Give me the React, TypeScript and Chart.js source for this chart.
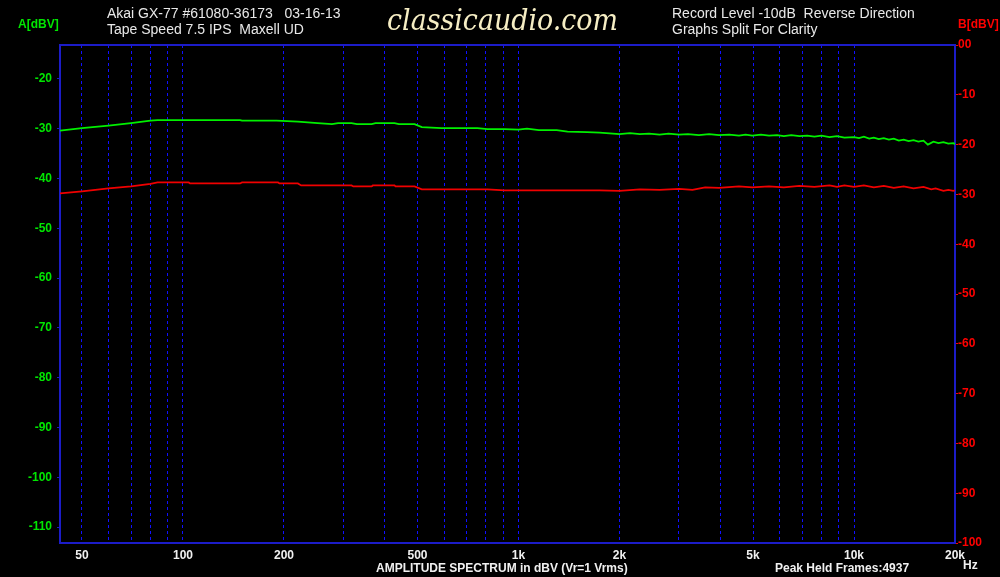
import { useEffect, useRef } from 'react';
import { Chart, registerables } from 'chart.js';

Chart.register(...registerables);

// Channel A (green, left axis) — frequency (Hz) and level (dBV)
const FREQ_A = [43, 50, 60, 70, 80, 84, 148, 150, 190, 220, 252, 278, 290, 318, 330, 365, 375, 427, 440, 490, 515, 589, 754, 808, 909, 1000, 1060, 1150, 1300, 1400, 1600, 1745, 2000, 2150, 2300, 2450, 2634, 2800, 3010, 3200, 3450, 3700, 3960, 4250, 4540, 4750, 4980, 5280, 5580, 5900, 6180, 6500, 6875, 7250, 7620, 8000, 8450, 8900, 9360, 10000, 10350, 10700, 11100, 11460, 11850, 12270, 12700, 13140, 13600, 14060, 14550, 15050, 15550, 16110, 16600, 17250, 17850, 18470, 19100, 19770, 20000];
const LEVEL_A = [-30.4, -29.9, -29.4, -28.9, -28.4, -28.3, -28.3, -28.4, -28.4, -28.6, -28.9, -29.1, -28.9, -28.9, -29.1, -29.1, -28.9, -28.9, -29.1, -29.1, -29.7, -29.9, -29.9, -30.1, -30.1, -30.2, -30.0, -30.3, -30.3, -30.6, -30.7, -30.8, -31.1, -30.9, -31.1, -31.0, -31.2, -31.0, -31.2, -31.1, -31.3, -31.1, -31.3, -31.2, -31.4, -31.2, -31.4, -31.2, -31.4, -31.3, -31.5, -31.3, -31.5, -31.4, -31.6, -31.4, -31.7, -31.5, -31.8, -31.7, -31.9, -31.6, -32.0, -31.8, -32.1, -31.9, -32.2, -32.0, -32.4, -32.2, -32.5, -32.3, -32.6, -32.4, -33.2, -32.6, -32.9, -32.7, -33.0, -32.9, -33.1];

// Channel B (red, right axis) — frequency (Hz) and level (dBV)
const FREQ_B = [43, 50, 60, 70, 80, 84, 104, 105, 148, 150, 192, 194, 220, 225, 318, 322, 365, 368, 427, 430, 490, 515, 808, 909, 1745, 2000, 2300, 2634, 3010, 3300, 3600, 3960, 4540, 4980, 5580, 6180, 6875, 7620, 8450, 8900, 9360, 10000, 10700, 11460, 12270, 13140, 14060, 15050, 16110, 17000, 17500, 18470, 19100, 19770, 20000];
const LEVEL_B = [-29.8, -29.4, -28.8, -28.4, -27.9, -27.6, -27.6, -27.8, -27.8, -27.6, -27.6, -27.8, -27.8, -28.2, -28.2, -28.4, -28.4, -28.2, -28.2, -28.4, -28.4, -29.0, -29.0, -29.2, -29.2, -29.3, -29.0, -29.1, -28.9, -29.1, -28.6, -28.7, -28.4, -28.6, -28.4, -28.6, -28.3, -28.5, -28.2, -28.5, -28.2, -28.5, -28.2, -28.6, -28.3, -28.7, -28.4, -28.8, -28.5, -29.0, -28.8, -29.3, -29.1, -29.3, -29.2];

const GRID_FREQS = [50, 60, 70, 80, 90, 100, 200, 300, 400, 500, 600, 700, 800, 900, 1000, 2000, 3000, 4000, 5000, 6000, 7000, 8000, 9000, 10000, 20000];
const X_LABEL_FREQS = [50, 100, 200, 500, 1000, 2000, 5000, 10000, 20000];
const X_LABEL_TEXT = ['50', '100', '200', '500', '1k', '2k', '5k', '10k', '20k'];
const LEFT_TICKS = [-20, -30, -40, -50, -60, -70, -80, -90, -100, -110];
const RIGHT_TICKS = [0, -10, -20, -30, -40, -50, -60, -70, -80, -90, -100];

const FONT = '"Liberation Sans", Arial, sans-serif';

const textPlugin = {
  id: 'textPlugin',
  beforeDatasetsDraw(chart: any) {
    const { ctx, chartArea } = chart;
    ctx.save();
    ctx.strokeStyle = '#1c1cc8';
    ctx.lineWidth = 2;
    ctx.strokeRect(chartArea.left, chartArea.top, chartArea.right - chartArea.left, chartArea.bottom - chartArea.top);
    ctx.restore();
  },
  afterDraw(chart: any) {
    const ctx = chart.ctx;
    ctx.save();
    ctx.textBaseline = 'alphabetic';
    ctx.textAlign = 'left';
    ctx.fillStyle = '#e8e8e8';
    ctx.font = `14px ${FONT}`;
    ctx.fillText('Akai GX-77 #61080-36173   03-16-13', 107, 18);
    ctx.fillText('Tape Speed 7.5 IPS  Maxell UD', 107, 34);
    ctx.fillText('Record Level -10dB  Reverse Direction', 672, 18);
    ctx.fillText('Graphs Split For Clarity', 672, 34);

    ctx.font = `bold 12px ${FONT}`;
    ctx.fillStyle = '#00e600';
    ctx.fillText('A[dBV]', 18, 28);
    ctx.fillStyle = '#ff0000';
    ctx.fillText('B[dBV]', 958, 28);

    ctx.fillStyle = '#f0f0f0';
    ctx.fillText('AMPLITUDE SPECTRUM in dBV (Vr=1 Vrms)', 376, 572);
    ctx.fillText('Peak Held Frames:4937', 775, 572);
    ctx.fillText('Hz', 963, 569);

    // logo
    const logo = 'classicaudio.com';
    ctx.font = `italic 30px "DejaVu Serif", serif`;
    const w = ctx.measureText(logo).width;
    ctx.fillStyle = '#f6eec4';
    ctx.translate(387, 30);
    ctx.scale(231 / w, 1);
    ctx.fillText(logo, 0, 0);
    ctx.restore();
  },
};

export default function App() {
  const ref = useRef<HTMLCanvasElement | null>(null);

  useEffect(() => {
    if (!ref.current) return;
    const dataA = FREQ_A.map((f, i) => ({ x: f, y: LEVEL_A[i] }));
    const dataB = FREQ_B.map((f, i) => ({ x: f, y: LEVEL_B[i] }));
    const chart = new Chart(ref.current, {
      type: 'line',
      data: {
        datasets: [
          {
            label: 'A',
            data: dataA,
            yAxisID: 'yA',
            borderColor: '#00f000',
            borderWidth: 1.8,
            pointRadius: 0,
            tension: 0,
          },
          {
            label: 'B',
            data: dataB,
            yAxisID: 'yB',
            borderColor: '#f00000',
            borderWidth: 1.8,
            pointRadius: 0,
            tension: 0,
          },
        ],
      },
      options: {
        responsive: false,
        animation: false,
        events: [],
        layout: { padding: { top: 45, left: 0, right: 0, bottom: 0 } },
        plugins: { legend: { display: false }, tooltip: { enabled: false } },
        scales: {
          x: {
            type: 'logarithmic',
            min: 43,
            max: 20000,
            afterBuildTicks: (scale: any) => {
              scale.ticks = GRID_FREQS.map((v) => ({ value: v }));
            },
            afterFit: (scale: any) => {
              scale.height = 34;
            },
            grid: {
              color: '#1010ff',
              lineWidth: 1,
              drawTicks: false,
            },
            border: { display: false, dash: [3, 3] },
            ticks: {
              autoSkip: false,
              maxRotation: 0,
              padding: 5,
              color: '#f0f0f0',
              font: { family: FONT, size: 12, weight: 'bold' },
              callback: (value: any) => {
                const idx = X_LABEL_FREQS.indexOf(Number(value));
                return idx >= 0 ? X_LABEL_TEXT[idx] : '';
              },
            },
          },
          yA: {
            type: 'linear',
            position: 'left',
            min: -113.2,
            max: -13.2,
            afterBuildTicks: (scale: any) => {
              scale.ticks = LEFT_TICKS.map((v) => ({ value: v }));
            },
            afterFit: (scale: any) => {
              scale.width = 60;
            },
            grid: { drawOnChartArea: false, drawTicks: true, tickLength: 3, color: '#1c1cc8' },
            border: { display: false },
            ticks: {
              padding: 5,
              color: '#00e600',
              font: { family: FONT, size: 12, weight: 'bold' },
              callback: (v: any) => String(v),
            },
          },
          yB: {
            type: 'linear',
            position: 'right',
            min: -100,
            max: 0,
            afterBuildTicks: (scale: any) => {
              scale.ticks = RIGHT_TICKS.map((v) => ({ value: v }));
            },
            afterFit: (scale: any) => {
              scale.width = 45;
            },
            grid: { drawOnChartArea: false, drawTicks: true, tickLength: 3, color: '#ff0000' },
            border: { display: false },
            ticks: {
              padding: 0,
              color: '#ff0000',
              font: { family: FONT, size: 12, weight: 'bold' },
              callback: (v: any) => (Number(v) === 0 ? '00' : String(v)),
            },
          },
        },
      },
      plugins: [textPlugin],
    });
    return () => chart.destroy();
  }, []);

  return (
    <div style={{ position: 'absolute', left: 0, top: 0, width: 1000, height: 577, background: '#000', overflow: 'hidden' }}>
      <canvas ref={ref} width={1000} height={577} style={{ display: 'block', width: 1000, height: 577 }} />
    </div>
  );
}
